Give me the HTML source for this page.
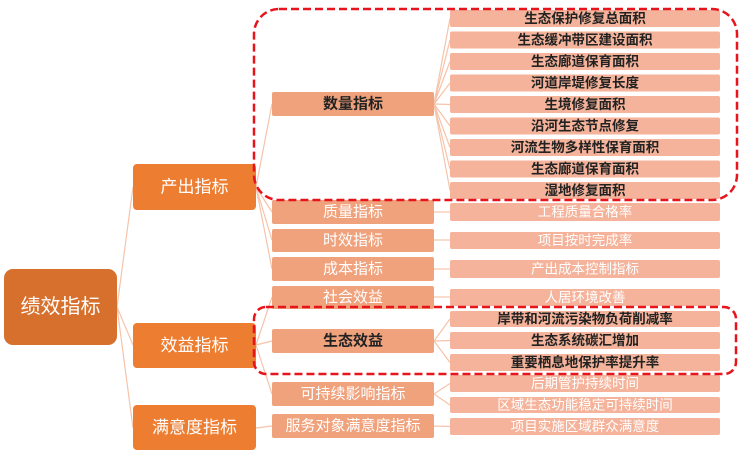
<!DOCTYPE html>
<html><head><meta charset="utf-8"><style>
html,body{margin:0;padding:0;background:#fff;width:750px;height:460px;overflow:hidden}
svg text{font-family:"Liberation Sans","Noto Sans CJK SC",sans-serif;text-anchor:middle;dominant-baseline:central}
</style></head><body>
<svg width="750" height="460" viewBox="0 0 750 460" xmlns="http://www.w3.org/2000/svg">
<g stroke="#F6C3AA" stroke-width="1.2" fill="none">
<line x1="117" y1="307" x2="133" y2="187"/>
<line x1="117" y1="307" x2="133" y2="345"/>
<line x1="117" y1="307" x2="133" y2="428"/>
<line x1="256" y1="187" x2="272" y2="104"/>
<line x1="256" y1="187" x2="272" y2="212"/>
<line x1="256" y1="187" x2="272" y2="240"/>
<line x1="256" y1="187" x2="272" y2="269"/>
<line x1="256" y1="345" x2="272" y2="297"/>
<line x1="256" y1="345" x2="272" y2="341"/>
<line x1="256" y1="345" x2="272" y2="394"/>
<line x1="256" y1="428" x2="272" y2="426"/>
<line x1="434" y1="104" x2="450" y2="18.5"/>
<line x1="434" y1="104" x2="450" y2="40"/>
<line x1="434" y1="104" x2="450" y2="61.5"/>
<line x1="434" y1="104" x2="450" y2="83"/>
<line x1="434" y1="104" x2="450" y2="104.5"/>
<line x1="434" y1="104" x2="450" y2="126"/>
<line x1="434" y1="104" x2="450" y2="147.5"/>
<line x1="434" y1="104" x2="450" y2="169"/>
<line x1="434" y1="104" x2="450" y2="190.5"/>
<line x1="434" y1="212" x2="450" y2="212"/>
<line x1="434" y1="240" x2="450" y2="240"/>
<line x1="434" y1="269" x2="450" y2="269"/>
<line x1="434" y1="297" x2="450" y2="297"/>
<line x1="434" y1="341" x2="450" y2="319"/>
<line x1="434" y1="341" x2="450" y2="340.5"/>
<line x1="434" y1="341" x2="450" y2="362.5"/>
<line x1="434" y1="394" x2="450" y2="383.5"/>
<line x1="434" y1="394" x2="450" y2="405"/>
<line x1="434" y1="426" x2="450" y2="426.5"/>
</g>
<rect x="4" y="269" width="113" height="76" rx="9" fill="#D6702C"/>
<text x="60.5" y="307" font-size="20" fill="#fff">绩效指标</text>
<g fill="#ED7D31">
<rect x="133" y="164" width="123" height="46" rx="4"/>
<rect x="133" y="323" width="123" height="45" rx="4"/>
<rect x="133" y="405" width="123" height="45" rx="4"/>
</g>
<g font-size="17" fill="#fff">
<text x="194.5" y="187">产出指标</text>
<text x="194.5" y="345.5">效益指标</text>
<text x="194.5" y="427.5">满意度指标</text>
</g>
<g fill="#F0A27D">
<rect x="272" y="92" width="162" height="24" rx="2"/>
<rect x="272" y="200" width="162" height="24" rx="2"/>
<rect x="272" y="229" width="162" height="23" rx="2"/>
<rect x="272" y="257" width="162" height="24" rx="2"/>
<rect x="272" y="286" width="162" height="23" rx="2"/>
<rect x="272" y="329" width="162" height="24" rx="2"/>
<rect x="272" y="382" width="162" height="24" rx="2"/>
<rect x="272" y="414" width="162" height="24" rx="2"/>
</g>
<g font-size="15" fill="#fff">
<text x="353" y="104" fill="#222" font-weight="bold">数量指标</text>
<text x="353" y="212">质量指标</text>
<text x="353" y="240.5">时效指标</text>
<text x="353" y="269">成本指标</text>
<text x="353" y="297.5">社会效益</text>
<text x="353" y="341" fill="#222" font-weight="bold">生态效益</text>
<text x="353" y="394">可持续影响指标</text>
<text x="353" y="426">服务对象满意度指标</text>
</g>
<g fill="#F4B39A">
<rect x="450" y="10" width="270" height="17" rx="2"/>
<rect x="450" y="31.5" width="270" height="17" rx="2"/>
<rect x="450" y="53" width="270" height="17" rx="2"/>
<rect x="450" y="74.5" width="270" height="17" rx="2"/>
<rect x="450" y="96" width="270" height="17" rx="2"/>
<rect x="450" y="117.5" width="270" height="17" rx="2"/>
<rect x="450" y="139" width="270" height="17" rx="2"/>
<rect x="450" y="160.5" width="270" height="17" rx="2"/>
<rect x="450" y="182" width="270" height="17" rx="2"/>
<rect x="450" y="203" width="270" height="18" rx="2"/>
<rect x="450" y="232" width="270" height="17" rx="2"/>
<rect x="450" y="260" width="270" height="18" rx="2"/>
<rect x="450" y="289" width="270" height="17" rx="2"/>
<rect x="450" y="311" width="270" height="16" rx="2"/>
<rect x="450" y="332" width="270" height="17" rx="2"/>
<rect x="450" y="354" width="270" height="17" rx="2"/>
<rect x="450" y="375" width="270" height="17" rx="2"/>
<rect x="450" y="397" width="270" height="16" rx="2"/>
<rect x="450" y="418" width="270" height="17" rx="2"/>
</g>
<g font-size="13.5" fill="#222" font-weight="bold">
<text x="585" y="18.5">生态保护修复总面积</text>
<text x="585" y="40">生态缓冲带区建设面积</text>
<text x="585" y="61.5">生态廊道保育面积</text>
<text x="585" y="83">河道岸堤修复长度</text>
<text x="585" y="104.5">生境修复面积</text>
<text x="585" y="126">沿河生态节点修复</text>
<text x="585" y="147.5">河流生物多样性保育面积</text>
<text x="585" y="169">生态廊道保育面积</text>
<text x="585" y="190.5">湿地修复面积</text>
<text x="585" y="319">岸带和河流污染物负荷削减率</text>
<text x="585" y="340.5">生态系统碳汇增加</text>
<text x="585" y="362.5">重要栖息地保护率提升率</text>
</g>
<g font-size="13.5" fill="#fff">
<text x="585" y="212">工程质量合格率</text>
<text x="585" y="240.5">项目按时完成率</text>
<text x="585" y="269">产出成本控制指标</text>
<text x="585" y="297.5">人居环境改善</text>
<text x="585" y="383.5">后期管护持续时间</text>
<text x="585" y="405">区域生态功能稳定可持续时间</text>
<text x="585" y="426.5">项目实施区域群众满意度</text>
</g>
<g fill="none" stroke="#E8141B" stroke-width="2.5" stroke-dasharray="8,4">
<rect x="254" y="9" width="483" height="191" rx="25"/>
<rect x="254" y="307" width="482" height="67" rx="12"/>
</g>
</svg>
</body></html>
